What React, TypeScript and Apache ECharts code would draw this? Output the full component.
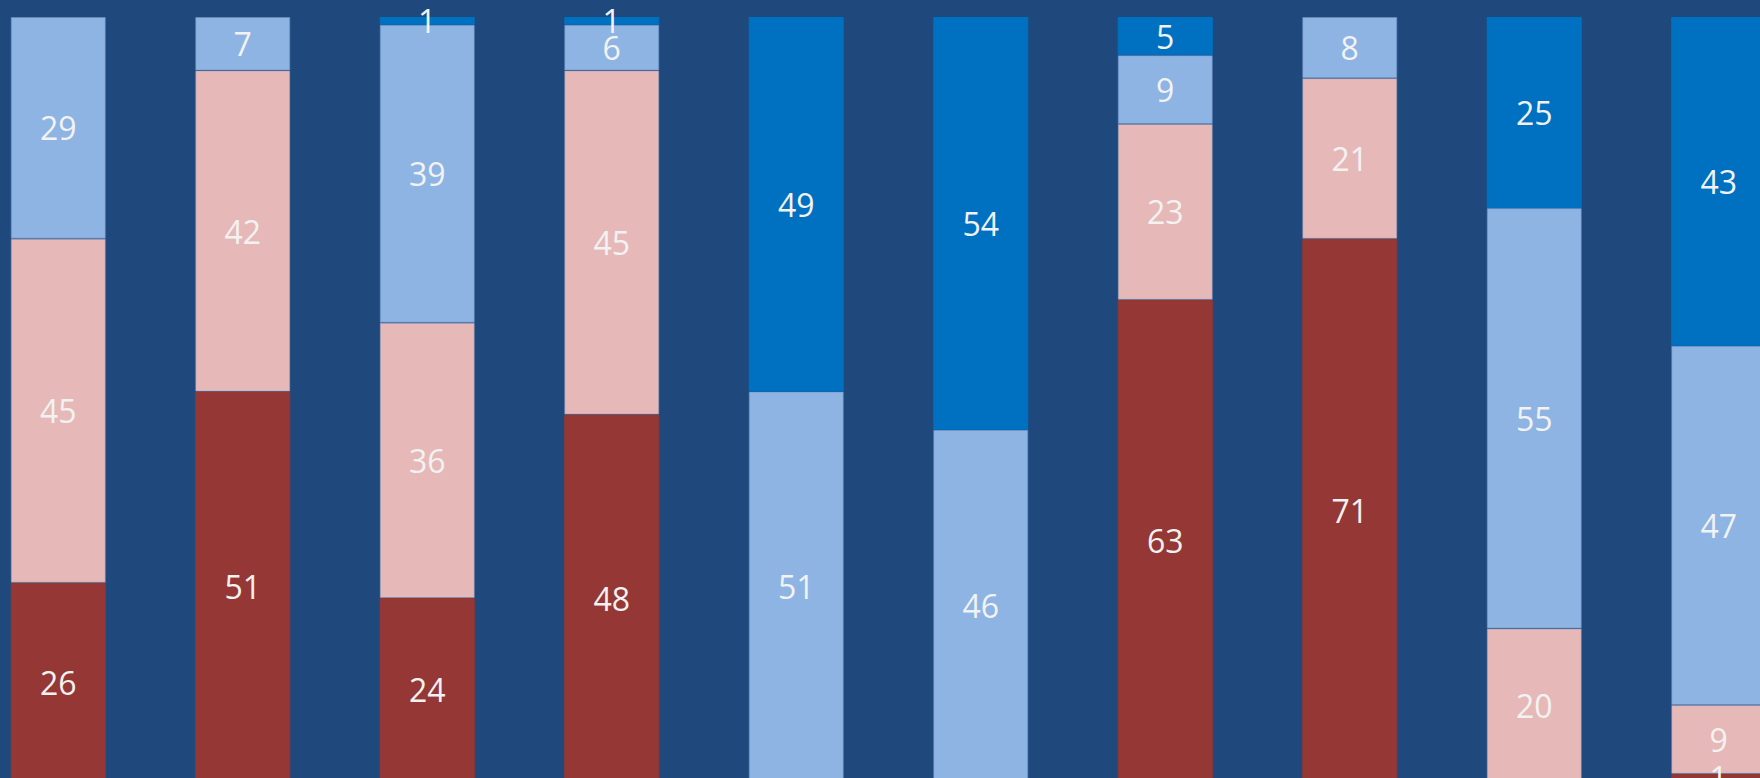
import React, { useEffect, useRef } from "react";
import * as echarts from "echarts";

const categories = ["1", "2", "3", "4", "5", "6", "7", "8", "9", "10"];
const darkRed = [26, 51, 24, 48, 0, 0, 63, 71, 0, 1];
const pink = [45, 42, 36, 45, 0, 0, 23, 21, 20, 9];
const lightBlue = [29, 7, 39, 6, 51, 46, 9, 8, 55, 47];
const darkBlue = [0, 0, 1, 1, 49, 54, 5, 0, 25, 43];

const seriesDefs = [
  { name: "s1", values: darkRed, color: "#953735", border: "rgba(149,55,53,1)" },
  { name: "s2", values: pink, color: "#E6B9B8", border: "rgba(140,155,190,0.5)" },
  { name: "s3", values: lightBlue, color: "#8EB4E3", border: "rgba(110,145,195,0.6)" },
  { name: "s4", values: darkBlue, color: "#0070C0", border: "rgba(0,112,192,1)" },
];

export default function App() {
  const ref = useRef<HTMLDivElement>(null);
  useEffect(() => {
    document.body.style.margin = "0";
    document.body.style.overflow = "hidden";
    const chart = echarts.init(ref.current!, undefined, { renderer: "svg" });
    chart.setOption({
      animation: false,
      backgroundColor: "transparent",
      grid: { left: 0, right: 0, top: 17, bottom: 18.5, containLabel: false },
      xAxis: {
        type: "category",
        data: categories,
        show: false,
      },
      yAxis: { type: "value", min: 0, max: 100, show: false },
      series: seriesDefs.map((s) => ({
        name: s.name,
        type: "bar",
        stack: "total",
        barWidth: 95,
        data: s.values.map((v) => (v === 0 ? "-" : v)),
        itemStyle: { color: s.color, borderColor: s.border, borderWidth: 1 },
        label: {
          show: true,
          position: "inside",
          color: "#F2F2F2",
          fontSize: 32,
          fontFamily: "Open Sans",
          formatter: (p: any) => (p.value ? String(p.value) : ""),
        },
        labelLayout: { hideOverlap: false },
      })),
    });
    return () => chart.dispose();
  }, []);
  return (
    <div
      style={{
        position: "relative",
        width: 1760,
        height: 778,
        overflow: "hidden",
        background: "#1F497D",
      }}
    >
      <div
        ref={ref}
        style={{ position: "absolute", left: -34.45, top: 0, width: 1845, height: 800 }}
      />
    </div>
  );
}
